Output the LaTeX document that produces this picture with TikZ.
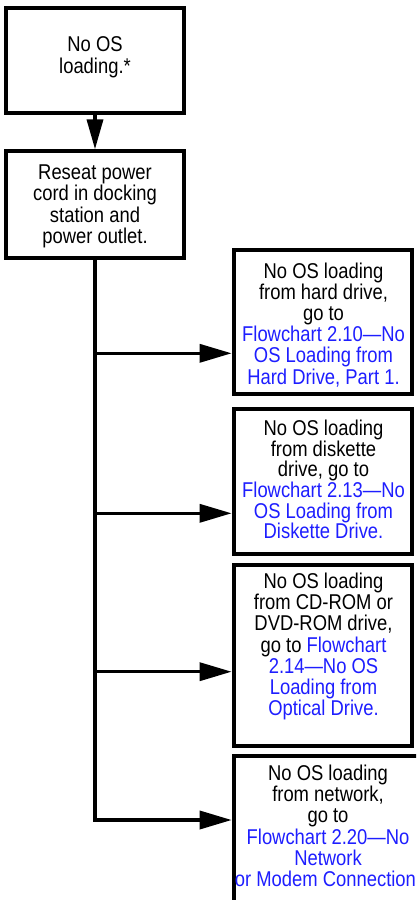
\documentclass[tikz,border=0pt]{standalone}
\usepackage{fontspec}
\setmainfont{Liberation Sans}[FakeStretch=0.86]
\usetikzlibrary{arrows.meta}
\definecolor{linkblue}{RGB}{30,30,255}
\newcommand{\lnk}[1]{\textcolor{linkblue}{#1}}
\begin{document}
\begin{tikzpicture}[x=1pt,y=-1pt,
  box/.style={draw, line width=4pt, inner sep=0pt, minimum width=178pt},
  txt/.style={align=center, inner sep=0pt, anchor=north, font=\fontsize{21.4}{21.2}\selectfont},
  conn/.style={line width=3.5pt},
  arr/.style={line width=3.5pt, -{Triangle[length=32pt,width=18pt]}},
  varr/.style={line width=3.5pt, -{Triangle[length=30pt,width=16pt]}}]
\useasboundingbox (0,0) rectangle (416,900);
\clip (0,0) rectangle (416,900);
\fill[white] (0,0) rectangle (416,900);
% boxes
\node[box, minimum width=177.7pt, minimum height=104.7pt] (b1) at (95,60.3) {};
\node[box, minimum width=177.7pt, minimum height=106.7pt] (b2) at (95,204.7) {};
\node[box, minimum width=178.3pt, minimum height=143.4pt] (b3) at (322.8,322) {};
\node[box, minimum width=178.3pt, minimum height=145pt] (b4) at (322.8,481.2) {};
\node[box, minimum width=178.3pt, minimum height=181.6pt] (b5) at (322.8,655.5) {};
\node[box, minimum width=188.3pt, minimum height=174pt] (b6) at (327.85,843) {};
% texts
\node[txt] (x1) at (95,36.7) {No OS\\loading.*};
\node[txt] (x2) at (95,164.7) {Reseat power\\cord in docking\\station and\\power outlet.};
\node[txt] (x3) at (323.5,262.4) {No OS loading\\from hard drive,\\go to\\\lnk{Flowchart 2.10—No}\\\lnk{OS Loading from}\\\lnk{Hard Drive, Part 1.}};
\node[txt, font=\fontsize{21.4}{20.7}\selectfont] (x4) at (323.5,419.7) {No OS loading\\from diskette\\drive, go to\\\lnk{Flowchart 2.13—No}\\\lnk{OS Loading from}\\\lnk{Diskette Drive.}};
\node[txt] (x5) at (323.5,572.7) {No OS loading\\from CD-ROM or\\DVD-ROM drive,\\go to \lnk{Flowchart}\\\lnk{2.14—No OS}\\\lnk{Loading from}\\\lnk{Optical Drive.}};
\node[txt] (x6) at (328,764.7) {No OS loading\\from network,\\go to\\\lnk{Flowchart 2.20—No}\\\lnk{Network}\\\lnk{or Modem Connection.}};
% connectors
\coordinate (t1) at (95,353.3);
\coordinate (t2) at (95,513.3);
\coordinate (t3) at (95,671.7);
\coordinate (t4) at (95,820);
\draw[varr] (b1.south) -- (b2.north);
\draw[conn, line cap=rect] (b2.south) -- (t4);
\draw[arr] (t1) -- (t1 -| b3.west);
\draw[arr] (t2) -- (t2 -| b4.west);
\draw[arr] (t3) -- (t3 -| b5.west);
\draw[arr] (t4) -- (t4 -| b6.west);
\end{tikzpicture}
\end{document}
